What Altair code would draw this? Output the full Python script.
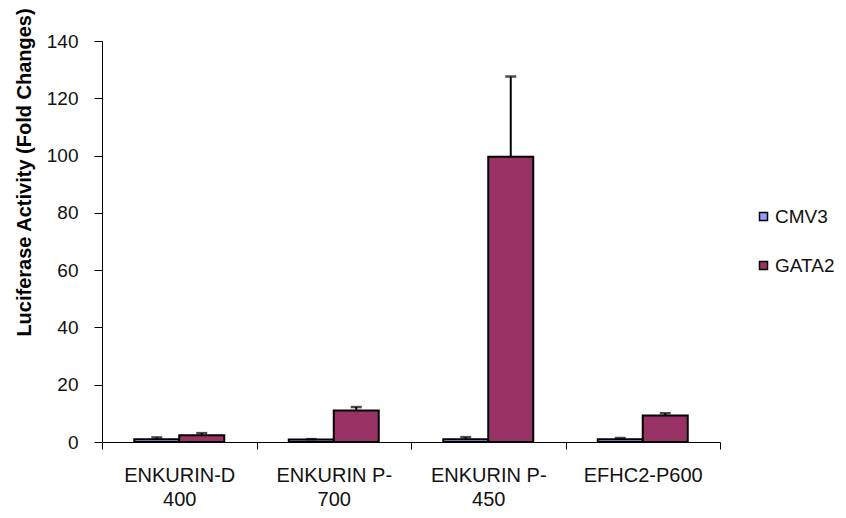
import altair as alt
import pandas as pd

categories = ["ENKURIN-D|400", "ENKURIN P-|700", "ENKURIN P-|450", "EFHC2-P600"]
series = ["CMV3", "GATA2"]
cmv3_values = [1.0, 0.9, 1.0, 1.0]
cmv3_errors = [0.6, 0.1, 0.7, 0.4]
gata2_values = [2.4, 11.0, 99.6, 9.25]
gata2_errors = [0.7, 1.2, 28.0, 0.8]
colors = ["#9999FF", "#993366"]
y_ticks = [0, 20, 40, 60, 80, 100, 120, 140]

rows = []
for i, c in enumerate(categories):
    rows.append({"cat": c, "series": "CMV3", "value": cmv3_values[i],
                 "top": cmv3_values[i] + cmv3_errors[i]})
    rows.append({"cat": c, "series": "GATA2", "value": gata2_values[i],
                 "top": gata2_values[i] + gata2_errors[i]})
df = pd.DataFrame(rows)

FONT = "Liberation Sans"

x_axis = alt.Axis(labelExpr="split(datum.label, '|')", labelAngle=0, tickBand="extent")
y_axis = alt.Axis(values=y_ticks, titleX=-78, titleY=131)
x_scale = alt.Scale(paddingInner=0, paddingOuter=0)
xoff_scale = alt.Scale(paddingInner=0, paddingOuter=0.717)
y_scale = alt.Scale(domain=[0, 140], nice=False)
y_title = "Luciferase Activity (Fold Changes)"

base = alt.Chart(df)

bars = base.mark_bar(stroke="black", strokeWidth=2).encode(
    x=alt.X("cat:N", sort=categories, title=None, scale=x_scale, axis=x_axis),
    xOffset=alt.XOffset("series:N", sort=series, scale=xoff_scale),
    y=alt.Y("value:Q", scale=y_scale, title=y_title, axis=y_axis),
    fill=alt.Color("series:N", sort=series,
                   scale=alt.Scale(domain=series, range=colors),
                   legend=alt.Legend(title=None, orient="none", legendX=652, legendY=166,
                                     symbolType="square", symbolSize=64,
                                     symbolStrokeColor="black", symbolStrokeWidth=1.5,
                                     labelFont=FONT, labelFontSize=19, labelColor="#111111",
                                     rowPadding=29, labelOffset=2, padding=0)),
)

rules = base.mark_rule(color="black", strokeWidth=2).encode(
    x=alt.X("cat:N", sort=categories, title=None, scale=x_scale, axis=x_axis),
    xOffset=alt.XOffset("series:N", sort=series, scale=xoff_scale),
    y=alt.Y("value:Q", scale=y_scale, title=y_title, axis=y_axis),
    y2="top:Q",
)

caps = base.mark_tick(color="black", thickness=2.5, size=11).encode(
    x=alt.X("cat:N", sort=categories, title=None, scale=x_scale, axis=x_axis),
    xOffset=alt.XOffset("series:N", sort=series, scale=xoff_scale),
    y=alt.Y("top:Q", scale=y_scale, title=y_title, axis=y_axis),
)

chart = alt.layer(bars, rules, caps).properties(
    width=618, height=401,
    autosize=alt.AutoSizeParams(type="none"),
    padding={"left": 94, "top": 33, "right": 118, "bottom": 68},
    background="white",
).configure_view(
    stroke=None
).configure_axisX(
    tickSize=7, tickColor="black", domainColor="black", labelFont=FONT,
    labelFontSize=20, labelColor="#111111", labelPadding=16, labelLineHeight=24,
    labelBaseline="top", grid=False
).configure_axisY(
    grid=False, tickSize=8, tickColor="black", domainColor="black",
    labelFont=FONT, labelFontSize=19, labelColor="#111111", labelPadding=16,
    labelAlign="right",
    titleFont=FONT, titleFontSize=20, titleFontWeight="bold", titleColor="black",
    titleAngle=-90, titleAlign="center", titleBaseline="middle"
)

chart.save("out.html", embed_options={"renderer": "svg", "actions": False})
